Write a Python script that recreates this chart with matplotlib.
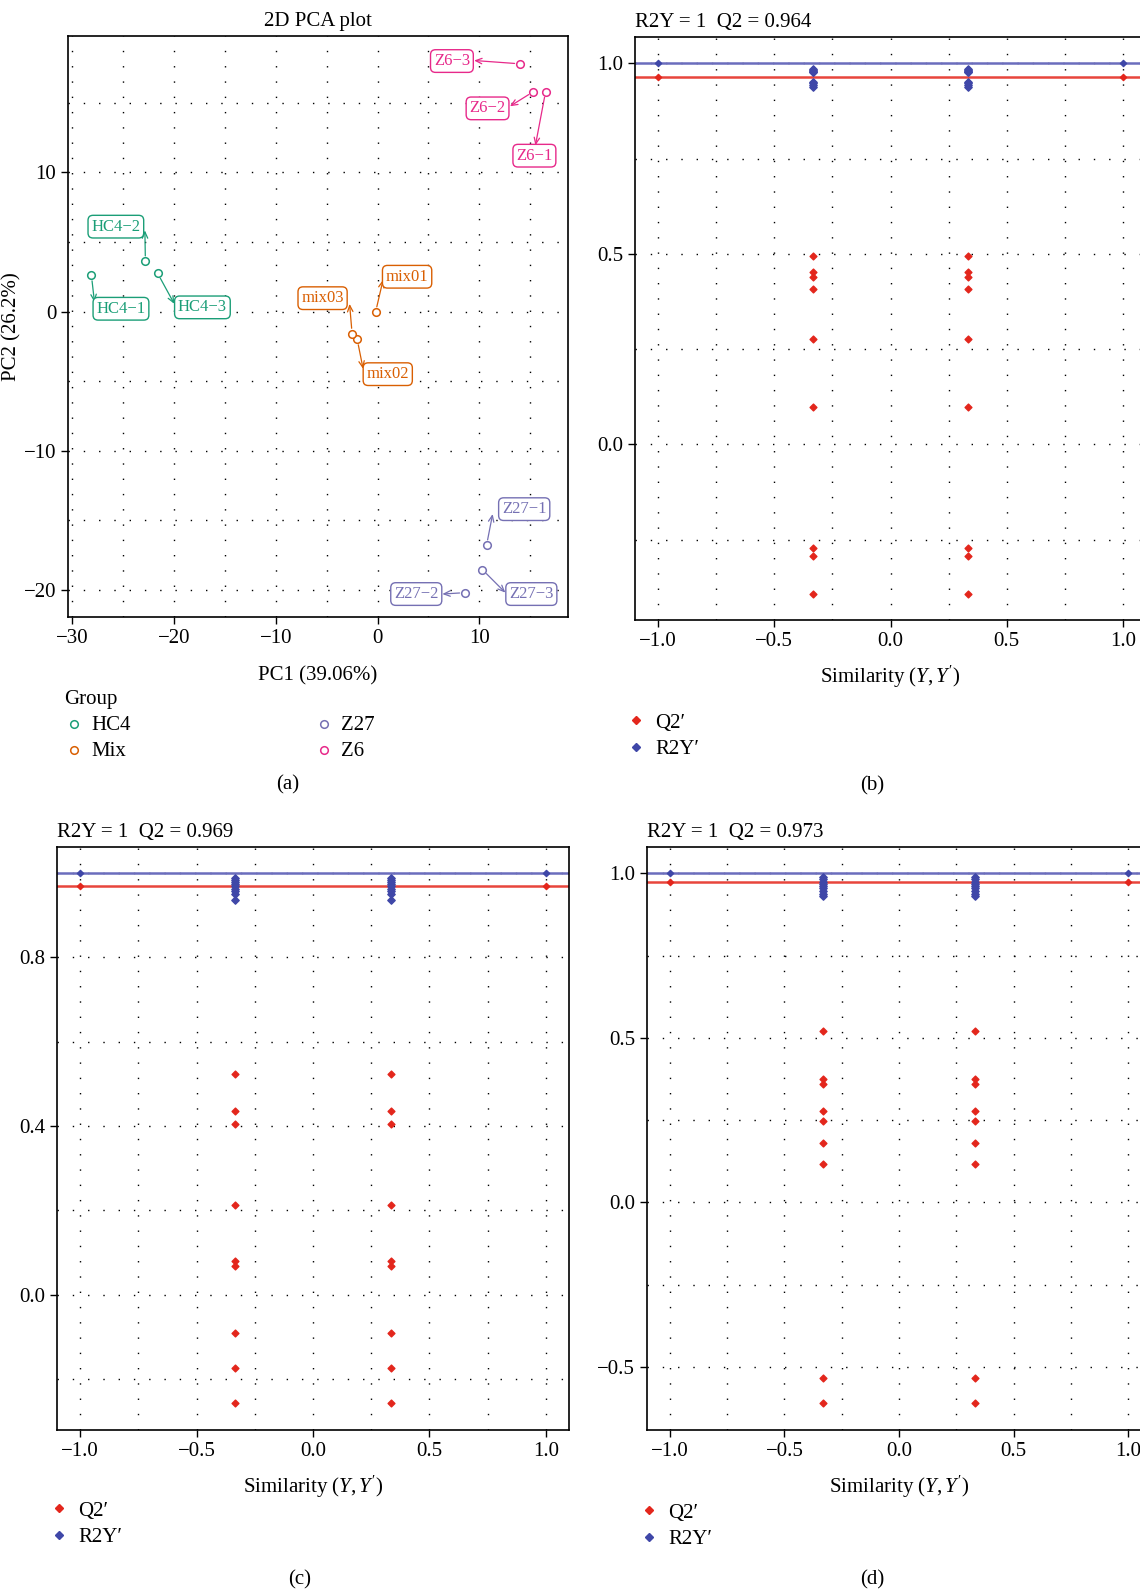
import matplotlib
matplotlib.use("Agg")
import matplotlib.pyplot as plt
from matplotlib.lines import Line2D
from matplotlib.ticker import MultipleLocator
import numpy as np

plt.rcParams['font.family'] = ['Liberation Serif', 'DejaVu Serif']
plt.rcParams['mathtext.fontset'] = 'custom'
plt.rcParams['mathtext.rm'] = 'Liberation Serif'
plt.rcParams['mathtext.it'] = 'Liberation Serif:italic'
plt.rcParams['font.size'] = 15

W, H = 1140, 1591
FS = 15

# ---- PCA data (panel a) ----
groups = ["HC4", "Mix", "Z27", "Z6"]
group_colors = ["#1B9E77", "#D95F02", "#7570B3", "#E7298A"]
sample_names = ["HC4-1", "HC4-2", "HC4-3", "mix01", "mix02", "mix03",
                "Z27-1", "Z27-2", "Z27-3", "Z6-1", "Z6-2", "Z6-3"]
sample_group = ["HC4", "HC4", "HC4", "Mix", "Mix", "Mix",
                "Z27", "Z27", "Z27", "Z6", "Z6", "Z6"]
pc1 = [-28.1, -22.8, -21.6, -0.2, -2.0, -2.5, 10.7, 8.6, 10.3, 16.5, 15.3, 14.0]
pc2 = [2.6, 3.6, 2.75, -0.05, -2.0, -1.6, -16.8, -20.2, -18.55, 15.8, 15.8, 17.8]
# where ggrepel put the label boxes, and where each segment meets its box
label_x = [-25.2, -25.7, -17.2, 2.9, 1.0, -5.4, 14.4, 3.8, 15.1, 15.4, 10.8, 7.3]
label_y = [0.2, 6.1, 0.3, 2.5, -4.5, 0.96, -14.2, -20.3, -20.3, 11.2, 14.6, 18.0]
seg_x = [-27.8, -22.85, -19.96, 0.54, -1.42, -2.75, 11.3, 6.36, 12.55, 15.5, 13.0, 9.48]
seg_y = [0.67, 5.83, 0.55, 2.28, -4.12, 0.55, -14.55, -20.3, -20.2, 11.94, 14.75, 18.04]

# ---- permutation tests (panels b, c, d) ----
perm_sim = [-1/3, 1/3]
model_sim = [-1.0, 1.0]

r2y_b, q2_b = 1.0, 0.964
q2_perm_b = [0.494, 0.453, 0.440, 0.407, 0.276, 0.097, -0.273, -0.292, -0.393]
r2y_perm_b = [0.985, 0.982, 0.980, 0.978, 0.976, 0.952, 0.948, 0.944, 0.937]

r2y_c, q2_c = 1.0, 0.969
q2_perm_c = [0.523, 0.436, 0.405, 0.2125, 0.081, 0.068, -0.090, -0.173, -0.257]
r2y_perm_c = [0.987, 0.983, 0.978, 0.974, 0.968, 0.962, 0.957, 0.950, 0.936]

r2y_d, q2_d = 1.0, 0.973
q2_perm_d = [0.520, 0.376, 0.360, 0.278, 0.247, 0.179, 0.115, -0.534, -0.610]
r2y_perm_d = [0.989, 0.983, 0.975, 0.968, 0.962, 0.955, 0.945, 0.936, 0.931]

RED = "#E3261C"
BLUE = "#3F47A8"

fig = plt.figure(figsize=(W / 100, H / 100), dpi=100)


def px_axes(left, top, right, bottom):
    return fig.add_axes([left / W, 1 - bottom / H, (right - left) / W, (bottom - top) / H])


def minus(v, p):
    return f"{v:g}".replace("-", "\u2212")


def style_grid(ax, xminor, yminor):
    ax.xaxis.set_minor_locator(MultipleLocator(xminor))
    ax.yaxis.set_minor_locator(MultipleLocator(yminor))
    ax.tick_params(which="minor", length=0)
    ax.tick_params(which="major", length=5, width=1, direction="out", labelsize=FS)
    ax.grid(which="both", linestyle=(0, (1, 10)), color="black", linewidth=1.0)
    ax.set_axisbelow(True)
    for s in ax.spines.values():
        s.set_linewidth(1.2)


# ---- (a) PCA ----
ax = px_axes(68, 36, 568, 617)
for g, c in zip(groups, group_colors):
    xs = [x for x, gg in zip(pc1, sample_group) if gg == g]
    ys = [y for y, gg in zip(pc2, sample_group) if gg == g]
    ax.scatter(xs, ys, s=30, facecolors="white", edgecolors=c, linewidths=1.1, label=g, zorder=3)
for name, g, x, y, lx, ly, sx, sy in zip(sample_names, sample_group, pc1, pc2,
                                         label_x, label_y, seg_x, seg_y):
    c = group_colors[groups.index(g)]
    ax.annotate("", xy=(sx, sy), xytext=(x, y),
                arrowprops=dict(arrowstyle="->,head_length=0.3,head_width=0.13", color=c, lw=0.9,
                                shrinkA=4, shrinkB=0),
                zorder=2)
    ax.text(lx, ly, name.replace("-", "\u2212"), fontsize=12, color=c, ha="center", va="center",
            bbox=dict(boxstyle="round,pad=0.2,rounding_size=0.3", fc="white", ec=c, lw=1),
            zorder=4)
ax.set_xlim(-30.4, 18.7)
ax.set_ylim(-21.95, 19.8)
ax.set_xticks([-30, -20, -10, 0, 10])
ax.set_yticks([-20, -10, 0, 10])
ax.xaxis.set_major_formatter(plt.FuncFormatter(minus))
ax.yaxis.set_major_formatter(plt.FuncFormatter(minus))
style_grid(ax, 5, 5)
ax.set_title("2D PCA plot", fontsize=FS, pad=7)
ax.set_xlabel("PC1 (39.06%)", fontsize=FS, labelpad=13)
ax.set_ylabel("PC2 (26.2%)", fontsize=FS)
ax.yaxis.set_label_coords(-0.094, 0.5)
leg = ax.legend(title="Group", loc="upper left", bbox_to_anchor=(64 / W, 1 - 690 / H),
                bbox_transform=fig.transFigure, ncol=2, frameon=False, fontsize=FS,
                title_fontsize=FS, columnspacing=8.8, handletextpad=0.3, handlelength=1.0,
                labelspacing=0.3, borderaxespad=0, borderpad=0)
leg._legend_box.align = "left"
fig.text(288 / W, 1 - 785 / H, "(a)", ha="center", va="center", fontsize=FS)


def perm_panel(left, top, right, bottom, r2y, q2, q2_perm, r2y_perm, ylim, ymajor, yminor, leg_x, leg_y):
    ax = px_axes(left, top, right, bottom)
    ax.axhline(r2y, color="#6B6DBD", lw=1.8, zorder=2)
    ax.axhline(q2, color="#E8453C", lw=1.8, zorder=2)
    ax.scatter(model_sim, [q2, q2], marker="D", s=10, color=RED, zorder=3)
    ax.scatter(model_sim, [r2y, r2y], marker="D", s=10, color=BLUE, zorder=3)
    for sx in perm_sim:
        ax.scatter([sx] * len(q2_perm), q2_perm, marker="D", s=12, color=RED, zorder=3)
        ax.scatter([sx] * len(r2y_perm), r2y_perm, marker="D", s=14, color=BLUE, zorder=4)
    ax.set_xlim(-1.1, 1.1)
    ax.set_ylim(*ylim)
    ax.set_xticks([-1.0, -0.5, 0.0, 0.5, 1.0])
    fmt = plt.FuncFormatter(lambda v, p: f"{v:.1f}".replace("-", "\u2212"))
    ax.xaxis.set_major_formatter(fmt)
    ax.yaxis.set_major_locator(MultipleLocator(ymajor))
    ax.yaxis.set_major_formatter(fmt)
    style_grid(ax, 0.25, yminor)
    ax.set_title(f"R2Y = {r2y:g}  Q2 = {q2}", loc="left", fontsize=FS, pad=7)
    ax.set_xlabel(r"Similarity ($Y,Y'$)", fontsize=FS, labelpad=9)
    handles = [Line2D([], [], marker="D", ls="", color=RED, markersize=4, label="Q2\u2032"),
               Line2D([], [], marker="D", ls="", color=BLUE, markersize=4, label="R2Y\u2032")]
    # leg_x: marker centre, leg_y: centre of first row
    ax.legend(handles=handles, loc="upper left", bbox_to_anchor=((leg_x - 10) / W, 1 - (leg_y - 11) / H),
              bbox_transform=fig.transFigure, frameon=False, fontsize=FS, handletextpad=0.4,
              handlelength=1.0, labelspacing=0.35, borderaxespad=0, borderpad=0)
    return ax


perm_panel(635, 37, 1146, 620, r2y_b, q2_b, q2_perm_b, r2y_perm_b, (-0.461, 1.069), 0.5, 0.25, 636, 724)
fig.text(872 / W, 1 - 786 / H, "(b)", ha="center", va="center", fontsize=FS)
perm_panel(57, 847, 569, 1430, r2y_c, q2_c, q2_perm_c, r2y_perm_c, (-0.32, 1.061), 0.4, 0.2, 59, 1512)
fig.text(300 / W, 1 - 1580 / H, "(c)", ha="center", va="center", fontsize=FS)
perm_panel(647, 847, 1151, 1430, r2y_d, q2_d, q2_perm_d, r2y_perm_d, (-0.692, 1.08), 0.5, 0.25, 649, 1514)
fig.text(872 / W, 1 - 1580 / H, "(d)", ha="center", va="center", fontsize=FS)

fig.savefig("out.png", dpi=100)
